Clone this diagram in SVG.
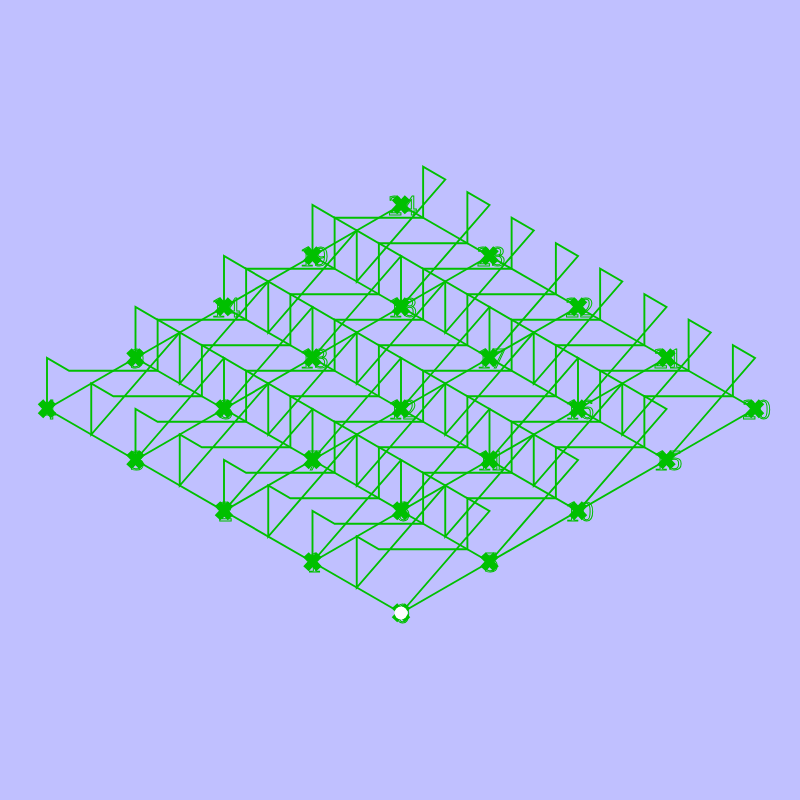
<svg xmlns="http://www.w3.org/2000/svg" width="800" height="800" viewBox="0 0 800 800">
<style>
.e{fill:none;stroke:#00c000;stroke-width:1.9}
.x{fill:none;stroke:#00c000;stroke-width:7.5}
text{font-family:"Liberation Serif",serif;font-size:28.500px;text-anchor:middle;fill:none;stroke:#00c000;stroke-width:1;filter:url(#f)}
</style>
<defs>
<filter id="f" x="-20%" y="-20%" width="140%" height="140%"><feOffset dx="0" dy="0"/></filter>
<path id="m" class="e" d="M0 0L88.5-102L66.375-114.75L66.375-63.75L-22.125-63.75L-44.25-76.5L-44.25-25.5L44.25-127.5L22.125-140.25L22.125-89.25L-66.375-89.25L-88.5-102L-88.5-51"/>
<path id="u" class="e" d="M0 0L88.5-51"/>
<path id="v" class="e" d="M0 0L-88.5-51"/>
<path id="k" class="x" d="M-6.500 -7.200L6.500 6.800M-6.500 6.800L6.500 -7.200"/>
</defs>
<rect width="800" height="800" fill="#c0c0ff"/>
<g id="connectors">
<use href="#m" x="401" y="613"/><use href="#m" x="312.5" y="562"/><use href="#m" x="224" y="511"/><use href="#m" x="135.5" y="460"/>
<use href="#m" x="489.5" y="562"/><use href="#m" x="401" y="511"/><use href="#m" x="312.5" y="460"/><use href="#m" x="224" y="409"/>
<use href="#m" x="578" y="511"/><use href="#m" x="489.5" y="460"/><use href="#m" x="401" y="409"/><use href="#m" x="312.5" y="358"/>
<use href="#m" x="666.5" y="460"/><use href="#m" x="578" y="409"/><use href="#m" x="489.5" y="358"/><use href="#m" x="401" y="307"/>
<use href="#u" x="401" y="613"/><use href="#u" x="489.5" y="562"/><use href="#u" x="578" y="511"/><use href="#u" x="666.5" y="460"/>
<use href="#u" x="312.5" y="562"/><use href="#u" x="401" y="511"/><use href="#u" x="489.5" y="460"/><use href="#u" x="578" y="409"/>
<use href="#u" x="224" y="511"/><use href="#u" x="312.5" y="460"/><use href="#u" x="401" y="409"/><use href="#u" x="489.5" y="358"/>
<use href="#u" x="135.5" y="460"/><use href="#u" x="224" y="409"/><use href="#u" x="312.5" y="358"/><use href="#u" x="401" y="307"/>
<use href="#u" x="47" y="409"/><use href="#u" x="135.5" y="358"/><use href="#u" x="224" y="307"/><use href="#u" x="312.5" y="256"/>
<use href="#v" x="401" y="613"/><use href="#v" x="312.5" y="562"/><use href="#v" x="224" y="511"/><use href="#v" x="135.5" y="460"/>
<use href="#v" x="489.5" y="562"/><use href="#v" x="401" y="511"/><use href="#v" x="312.5" y="460"/><use href="#v" x="224" y="409"/>
<use href="#v" x="578" y="511"/><use href="#v" x="489.5" y="460"/><use href="#v" x="401" y="409"/><use href="#v" x="312.5" y="358"/>
<use href="#v" x="666.5" y="460"/><use href="#v" x="578" y="409"/><use href="#v" x="489.5" y="358"/><use href="#v" x="401" y="307"/>
<use href="#v" x="755" y="409"/><use href="#v" x="666.5" y="358"/><use href="#v" x="578" y="307"/><use href="#v" x="489.5" y="256"/>
</g>
<g id="n0"><text x="402.500" y="623">0</text><use href="#k" x="401" y="613"/><circle cx="401" cy="613" r="6.500" fill="#fff"/></g>
<g id="n1"><text x="314" y="572">1</text><use href="#k" x="312.5" y="562"/></g>
<g id="n2"><text x="225.500" y="521">2</text><use href="#k" x="224" y="511"/></g>
<g id="n3"><text x="137" y="470">3</text><use href="#k" x="135.5" y="460"/></g>
<g id="n4"><text x="48.500" y="419">4</text><use href="#k" x="47" y="409"/></g>
<g id="n5"><text x="491" y="572">5</text><use href="#k" x="489.5" y="562"/></g>
<g id="n6"><text x="402.500" y="521">6</text><use href="#k" x="401" y="511"/></g>
<g id="n7"><text x="314" y="470">7</text><use href="#k" x="312.5" y="460"/></g>
<g id="n8"><text x="225.500" y="419">8</text><use href="#k" x="224" y="409"/></g>
<g id="n9"><text x="137" y="368">9</text><use href="#k" x="135.5" y="358"/></g>
<g id="n10"><text x="579.500" y="521">10</text><use href="#k" x="578" y="511"/></g>
<g id="n11"><text x="491" y="470">11</text><use href="#k" x="489.5" y="460"/></g>
<g id="n12"><text x="402.500" y="419">12</text><use href="#k" x="401" y="409"/></g>
<g id="n13"><text x="314" y="368">13</text><use href="#k" x="312.5" y="358"/></g>
<g id="n14"><text x="225.500" y="317">14</text><use href="#k" x="224" y="307"/></g>
<g id="n15"><text x="668" y="470">15</text><use href="#k" x="666.5" y="460"/></g>
<g id="n16"><text x="579.500" y="419">16</text><use href="#k" x="578" y="409"/></g>
<g id="n17"><text x="491" y="368">17</text><use href="#k" x="489.5" y="358"/></g>
<g id="n18"><text x="402.500" y="317">18</text><use href="#k" x="401" y="307"/></g>
<g id="n19"><text x="314" y="266">19</text><use href="#k" x="312.5" y="256"/></g>
<g id="n20"><text x="756.500" y="419">20</text><use href="#k" x="755" y="409"/></g>
<g id="n21"><text x="668" y="368">21</text><use href="#k" x="666.5" y="358"/></g>
<g id="n22"><text x="579.500" y="317">22</text><use href="#k" x="578" y="307"/></g>
<g id="n23"><text x="491" y="266">23</text><use href="#k" x="489.5" y="256"/></g>
<g id="n24"><text x="402.500" y="215">24</text><use href="#k" x="401" y="205"/></g>
</svg>
